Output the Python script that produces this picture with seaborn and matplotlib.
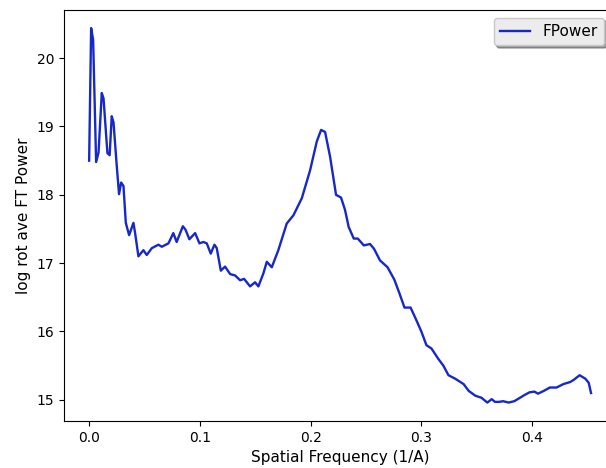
import matplotlib
matplotlib.use("Agg")
import matplotlib.pyplot as plt
import seaborn as sns
import pandas as pd

freq = [0.0, 0.0018, 0.0036, 0.0063, 0.0085, 0.0114, 0.0130, 0.0165, 0.0185, 0.0204,
        0.0220, 0.0250, 0.0270, 0.0289, 0.0310, 0.0331, 0.0361, 0.0400, 0.0415, 0.0445,
        0.0490, 0.0520, 0.0566, 0.0625, 0.0656, 0.0716, 0.0760, 0.0790, 0.0846, 0.0870,
        0.0905, 0.0957, 0.0996, 0.1032, 0.1062, 0.1098, 0.1131, 0.1152, 0.1189, 0.1227,
        0.1273, 0.1318, 0.1363, 0.1399, 0.1453, 0.1498, 0.1528, 0.1573, 0.1604, 0.1649,
        0.1708, 0.1784, 0.1844, 0.1920, 0.1995, 0.2055, 0.2094, 0.2130, 0.2175, 0.2229,
        0.2274, 0.2310, 0.2343, 0.2389, 0.2425, 0.2480, 0.2536, 0.2572, 0.2626, 0.2694,
        0.2755, 0.2801, 0.2847, 0.2902, 0.2953, 0.2999, 0.3045, 0.3091, 0.3152, 0.3198,
        0.3244, 0.3304, 0.3381, 0.3427, 0.3487, 0.3542, 0.3595, 0.3634, 0.3664, 0.3700,
        0.3737, 0.3787, 0.3838, 0.3869, 0.3930, 0.3976, 0.4021, 0.4052, 0.4104, 0.4159,
        0.4220, 0.4281, 0.4342, 0.4373, 0.4428, 0.4479, 0.4510, 0.4531]

power = [18.50, 20.44, 20.27, 18.48, 18.62, 19.49, 19.41, 18.61, 18.58, 19.15,
         19.06, 18.41, 18.01, 18.18, 18.13, 17.59, 17.41, 17.59, 17.44, 17.10,
         17.19, 17.12, 17.22, 17.27, 17.24, 17.29, 17.44, 17.31, 17.54, 17.49,
         17.35, 17.44, 17.29, 17.31, 17.29, 17.14, 17.27, 17.22, 16.89, 16.95,
         16.84, 16.82, 16.75, 16.77, 16.66, 16.72, 16.66, 16.85, 17.02, 16.94,
         17.19, 17.58, 17.70, 17.95, 18.36, 18.78, 18.95, 18.92, 18.56, 18.00,
         17.96, 17.78, 17.53, 17.36, 17.36, 17.26, 17.28, 17.21, 17.04, 16.94,
         16.76, 16.56, 16.35, 16.35, 16.17, 16.00, 15.80, 15.75, 15.60, 15.50,
         15.36, 15.31, 15.23, 15.13, 15.06, 15.03, 14.96, 15.01, 14.97, 14.97,
         14.98, 14.96, 14.98, 15.01, 15.07, 15.11, 15.12, 15.09, 15.13, 15.18,
         15.18, 15.23, 15.26, 15.29, 15.36, 15.31, 15.25, 15.10]

series_label = "FPower"
x_label = "Spatial Frequency (1/A)"
y_label = "log rot ave FT Power"

df = pd.DataFrame({"freq": freq, "power": power})

plt.rcParams["font.family"] = ["DejaVu Sans"]
fig = plt.figure(figsize=(6.06, 4.68), dpi=100)
ax = fig.add_axes([0.1056, 0.1004, 0.911, 0.879])

sns.lineplot(data=df, x="freq", y="power", color="#1628c8", linewidth=1.7,
             label=series_label, ax=ax, estimator=None, sort=False)

ax.set_xlim(-0.0227, 0.4757)
ax.set_ylim(14.69, 20.71)
ax.set_xticks([0.0, 0.1, 0.2, 0.3, 0.4])
ax.set_yticks([15, 16, 17, 18, 19, 20])
ax.set_xlabel(x_label, fontsize=11)
ax.set_ylabel(y_label, fontsize=11)
ax.tick_params(labelsize=10)
leg = ax.legend(loc="upper right", shadow=True, fancybox=True, fontsize=11,
                bbox_to_anchor=(604 / 606, 1 - 18 / 468),
                bbox_transform=fig.transFigure, borderaxespad=0,
                facecolor="#ececec", edgecolor="#c8c8c8", framealpha=1)

fig.savefig("out.png", dpi=100)
